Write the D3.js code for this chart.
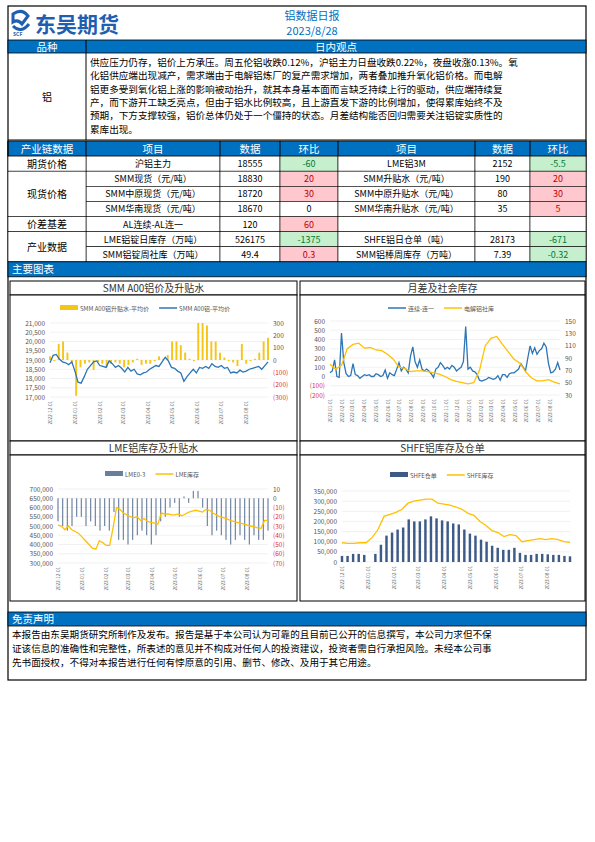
<!DOCTYPE html>
<html><head><meta charset="utf-8">
<script src="https://cdn.jsdelivr.net/npm/d3@7"></script>
<style>body{margin:0;background:#fff}svg text{font-family:"Noto Sans CJK SC",sans-serif}</style>
</head><body><svg id="pg" width="595" height="842"></svg>
<script>
// ---- data ----
const viewLines = [
  "供应压力仍存，铝价上方承压。周五伦铝收跌0.12%，沪铝主力日盘收跌0.22%，夜盘收涨0.13%。氧",
  "化铝供应端出现减产，需求端由于电解铝炼厂的复产需求增加，两者叠加推升氧化铝价格。而电解",
  "铝更多受到氧化铝上涨的影响被动抬升，就其本身基本面而言缺乏持续上行的驱动，供应端持续复",
  "产，而下游开工缺乏亮点，但由于铝水比例较高，且上游直发下游的比例增加，使得累库始终不及",
  "预期，下方支撑较强，铝价总体仍处于一个僵持的状态。月差结构能否回归需要关注铝锭实质性的",
  "累库出现。"];
const tableRows = [
  ["沪铝主力","18555","-60","LME铝3M","2152","-5.5"],
  ["SMM现货（元/吨）","18830","20","SMM升贴水（元/吨）","190","20"],
  ["SMM中原现货（元/吨）","18720","30","SMM中原升贴水（元/吨）","80","30"],
  ["SMM华南现货（元/吨）","18670","0","SMM华南升贴水（元/吨）","35","5"],
  ["AL连续-AL连一","120","60","","",""],
  ["LME铝锭日库存（万吨）","526175","-1375","SHFE铝日仓单（吨）","28173","-671"],
  ["SMM铝锭周社库（万吨）","49.4","0.3","SMM铝棒周库存（万吨）","7.39","-0.32"]];
const groups = [["期货价格",1],["现货价格",3],["价差基差",1],["产业数据",2]];

const a00Price = [18850,19250,19300,19050,18900,18850,18750,18900,18400,17800,17750,18100,18500,18700,18900,18950,
  18700,18650,18600,18950,18800,18600,18700,18550,18350,18600,18400,18500,18250,18200,18300,
  18350,18500,18600,18700,18650,18900,19150,18950,18600,18550,18400,18300,17850,18100,18300,18500,
  18300,18600,18550,18650,18550,18800,18650,18600,18700,18550,18600,18300,18350,18300,18450,18350,
  18400,18500,18550,18600,18650,18500,18700,18900];
const a00Prem = [30,-10,130,150,60,-30,-290,-60,-30,-20,-80,-20,-30,-60,-30,-20,-30,-60,-40,-20,
  10,-40,-30,-30,-10,30,10,40,150,150,120,60,10,-10,300,300,280,150,150,60,20,-10,-20,-50,
  130,-30,-10,10,60,150,180];
const spread = [40,60,180,0,-10,470,150,30,0,10,140,20,10,-20,0,20,10,20,0,0,30,20,0,10,70,-20,
  40,20,10,80,150,60,100,80,40,220,320,160,100,180,80,60,80,60,30,-10,80,100,150,120,80,100,
  80,120,100,60,80,100,160,540,80,100,60,50,20,-40,-50,-40,-30,-10,-20,-30,-20,10,-40,20,
  20,-10,30,40,40,60,80,140,100,60,200,330,250,310,240,280,300,360,320,140,40,50,80,150,70];
const socialInv = [80,72,78,105,112,114,106,107,103,102,96,88,75,73,68,69,69,68,66,64,60,55,52,50,
  48,50,70,110,122,125,112,100,88,82,68,58,53,53,55,51,48];
const lmeInv = [505,500,480,500,480,470,460,440,420,400,380,375,420,410,395,395,490,600,590,570,560,550,
  545,550,530,540,525,520,515,510,570,565,565,560,560,565,555,565,575,580,585,580,
  575,590,585,570,560,550,545,540,530,525,520,515,510,505,500,495,490,488,530,530];
const lme03 = [-25,-30,-35,-30,-20,-20,-30,-25,-30,-35,-30,-35,-15,-45,-45,-50,-45,-40,-35,
  -40,-50,-40,-25,-20,-10,-5,-20,2,-5,8,8,-10,-30,-40,-35,-40,-45,-50,-45,-40,-45,-50,-40,-45,-45,-35];
const shfeInv = [95,92,92,95,95,120,160,225,235,245,260,290,300,305,310,310,290,285,280,270,260,240,
  230,200,180,155,145,125,135,130,100,105,110,115,110,115,110,100,97];
const shfeWr = [30,30,40,40,35,0,40,85,130,145,160,170,210,200,200,210,225,215,205,200,190,185,
  160,140,130,110,100,80,70,60,60,70,45,35,35,40,40,38,35,35,30,28];

const BLUE = "#0070C0";
const svg = d3.select("#pg");
const L = 8, R = 586;

// ---- header ----
svg.append("rect").attr("x",L).attr("y",6).attr("width",R-L).attr("height",674).attr("fill","none").attr("stroke","#000").attr("stroke-width",1.2);
const logo = svg.append("g");
logo.append("path").attr("d","M13 14 q9 -6 15 2 l-6 8 q-4 -5 -9 -2z M13 26 q8 8 16 -2").attr("fill","none").attr("stroke","#1F5FB0").attr("stroke-width",3);
logo.append("text").attr("x",13).attr("y",36).attr("font-size",5).attr("fill","#1F5FB0").attr("font-weight","bold").text("SCF");
logo.append("text").attr("x",35).attr("y",32).attr("font-size",21).attr("font-weight","bold").attr("fill","#1F5FB0").text("东吴期货");
svg.append("text").attr("x",312).attr("y",20).attr("text-anchor","middle").attr("font-size",11).attr("fill",BLUE).text("铝数据日报");
svg.append("text").attr("x",312).attr("y",35).attr("text-anchor","middle").attr("font-size",11).attr("fill",BLUE).text("2023/8/28");

function band(y,h){ svg.append("rect").attr("x",L).attr("y",y).attr("width",R-L).attr("height",h).attr("fill",BLUE).attr("stroke","#000").attr("stroke-width",0.8); }
function txt(x,y,s,opt={}){ return svg.append("text").attr("x",x).attr("y",y).attr("font-size",opt.fs||9.5).attr("text-anchor",opt.a||"middle").attr("fill",opt.c||"#000").text(s); }
function cell(x,y,w,h,fill){ svg.append("rect").attr("x",x).attr("y",y).attr("width",w).attr("height",h).attr("fill",fill||"#fff").attr("stroke","#000").attr("stroke-width",0.6); }

band(40,13);
svg.append("line").attr("x1",86).attr("x2",86).attr("y1",40).attr("y2",140).attr("stroke","#000");
txt(47,51,"品种",{c:"#fff",fs:10.5}); txt(336,51,"日内观点",{c:"#fff",fs:10.5});
svg.append("line").attr("x1",L).attr("x2",R).attr("y1",140).attr("y2",140).attr("stroke","#000");
txt(47,101,"铝",{fs:10});
viewLines.forEach((s,i)=>txt(90,66+i*13.3,s,{a:"start",fs:9.6}));

// ---- table ----
const cols=[8,86,220,280,338,475,530,586];
const rowH=15.1, ty0=141;
band(ty0,rowH);
["产业链数据","项目","数据","环比","项目","数据","环比"].forEach((s,i)=>{
  svg.append("line").attr("x1",cols[i]).attr("x2",cols[i]).attr("y1",ty0).attr("y2",ty0+rowH).attr("stroke","#000");
  txt((cols[i]+cols[i+1])/2,ty0+11.5,s,{c:"#fff",fs:10.5});
});
tableRows.forEach((r,i)=>{
  const y=ty0+rowH*(i+1);
  r.forEach((s,j)=>{
    const x=cols[j+1], w=cols[j+2]-x;
    let fill="#fff", col="#000";
    if((j===2||j===5)&&s!==""&&+s!==0){ const v=+s; fill=v>0?"#FFC7CE":"#C6EFCE"; col=v>0?"#C00000":"#007A33"; }
    cell(x,y,w,rowH,fill);
    txt(x+w/2,y+11,s,{c:col,fs:9});
  });
});
let gy=ty0+rowH;
groups.forEach(([g,n])=>{ cell(cols[0],gy,cols[1]-cols[0],rowH*n); txt(47,gy+rowH*n/2+4,g,{fs:10}); gy+=rowH*n; });
band(gy,15); txt(12,gy+11.5,"主要图表",{a:"start",c:"#fff",fs:10.5});

// ---- charts ----
const panels=[[10,297],[300,585]];
function panelFrame(x0,x1,y,title){
  svg.append("rect").attr("x",x0).attr("y",y).attr("width",x1-x0).attr("height",14).attr("fill","#fff").attr("stroke","#000");
  svg.append("rect").attr("x",x0).attr("y",y+14).attr("width",x1-x0).attr("height",146).attr("fill","#fff").attr("stroke","#000");
  txt((x0+x1)/2,y+11,title,{fs:10,c:"#333"});
}
const fmtR=v=>v<0?"("+Math.abs(v)+")":String(v);
function even(start,end,n){ const s=+new Date(start), e=+new Date(end); return d3.range(n).map(i=>new Date(s+(e-s)*i/(n-1))); }

function chart(o){
  const g=svg.append("g");
  const x=d3.scaleTime().domain([new Date(o.start),new Date(o.end)]).range([o.x0,o.x1]);
  const yl=d3.scaleLinear().domain(o.ld).range([o.y1,o.y0]);
  const yr=d3.scaleLinear().domain(o.rd).range([o.y1,o.y0]);
  g.selectAll(".gl").data(yl.ticks(o.lt).filter(v=>v>=o.ld[0])).join("line")
    .attr("x1",o.x0).attr("x2",o.x1).attr("y1",yl).attr("y2",yl).attr("stroke","#e2e2e2").attr("stroke-width",0.5);
  g.append("g").attr("transform",`translate(${o.x0-2},0)`).call(d3.axisLeft(yl).tickValues(o.lticks).tickSize(0).tickFormat(o.lfmt))
    .call(a=>{a.select(".domain").remove();a.selectAll("text").attr("font-size",6.5).attr("fill",d=>d<0?"#E03030":"#555");});
  if(o.rticks) g.append("g").attr("transform",`translate(${o.x1+2},0)`).call(d3.axisRight(yr).tickValues(o.rticks).tickSize(0).tickFormat(fmtR))
    .call(a=>{a.select(".domain").remove();a.selectAll("text").attr("font-size",6.5).attr("fill",d=>d<0?"#E03030":"#555");});
  const s=o.series;
  s.forEach(se=>{
    const dates=even(o.start,o.end,se.v.length);
    const ys= se.axis==="r"?yr:yl;
    if(se.type==="bar"){
      const bw=Math.max(1,(o.x1-o.x0)/se.v.length*(se.bw||0.45)), base=ys(se.base||0);
      g.selectAll(null).data(se.v).join("rect").attr("x",(d,i)=>x(dates[i])-bw/2).attr("width",bw)
        .attr("y",d=>Math.min(base,ys(d))).attr("height",d=>Math.abs(base-ys(d))).attr("fill",se.c);
    } else {
      g.append("path").datum(se.v).attr("fill","none").attr("stroke",se.c).attr("stroke-width",1.3)
        .attr("d",d3.line().x((d,i)=>x(dates[i])).y(d=>ys(d)));
    }
  });
  // x labels
  o.xticks.forEach(d=>{
    const t=new Date(d);
    g.append("text").attr("transform",`translate(${x(t)+2},${o.y1+4}) rotate(-90)`).attr("text-anchor","end")
      .attr("font-size",4.6).attr("fill","#666").text(d3.timeFormat("%Y-%m-01")(t));
  });
  // legend
  let lx=o.legX;
  s.forEach(se=>{
    if(se.type==="bar") g.append("rect").attr("x",lx).attr("y",o.legY-3).attr("width",18).attr("height",5).attr("fill",se.c);
    else g.append("line").attr("x1",lx).attr("x2",lx+18).attr("y1",o.legY).attr("y2",o.legY).attr("stroke",se.c).attr("stroke-width",1.5);
    const tt=g.append("text").attr("x",lx+20).attr("y",o.legY+2.5).attr("font-size",6).attr("fill","#555").text(se.name);
    lx+=24+tt.node().getComputedTextLength()+6;
  });
}
const monthsTo=(a,b)=>d3.timeMonth.range(new Date(a),new Date(b)).map(d=>d.toISOString());

const top1=281, top2=441;
panelFrame(panels[0][0],panels[0][1],top1,"SMM A00铝价及升贴水");
panelFrame(panels[1][0],panels[1][1],top1,"月差及社会库存");
panelFrame(panels[0][0],panels[0][1],top2,"LME铝库存及升贴水");
panelFrame(panels[1][0],panels[1][1],top2,"SHFE铝库存及仓单");

chart({start:"2022-12-01",end:"2023-08-28",x0:50,x1:268,y0:323,y1:397,ld:[17000,21000],lt:8,rd:[-300,300],
  lticks:d3.range(17000,21001,500),rticks:[-300,-200,-100,0,100,200,300],lfmt:d3.format(","),
  xticks:monthsTo("2022-12-01","2023-08-02"),legX:60,legY:308,
  series:[{name:"SMM A00铝升贴水-平均价",type:"bar",axis:"r",c:"#F5C518",v:a00Prem},
          {name:"SMM A00铝-平均价",type:"line",axis:"l",c:"#2E75B6",v:a00Price}]});

chart({start:"2022-01-01",end:"2023-08-28",x0:330,x1:560,y0:321,y1:395,ld:[-200,600],lt:8,rd:[30,150],
  lticks:d3.range(-200,601,100),rticks:d3.range(30,151,20),lfmt:v=>v<0?"("+(-v)+")":v,
  xticks:monthsTo("2022-01-01","2023-08-02"),legX:388,legY:308,
  series:[{name:"连续-连一",type:"line",axis:"l",c:"#2E75B6",v:spread},
          {name:"电解铝社库",type:"line",axis:"r",c:"#FFC000",v:socialInv}]});

chart({start:"2022-12-01",end:"2023-08-28",x0:58,x1:268,y0:489,y1:563,ld:[300000,700000],lt:8,rd:[-70,10],
  lticks:d3.range(300000,700001,50000),rticks:d3.range(-70,11,10),lfmt:d3.format(","),
  xticks:monthsTo("2022-12-01","2023-08-02"),legX:105,legY:474,
  series:[{name:"LME0-3",type:"bar",axis:"r",c:"#6A7F9E",bw:0.25,v:lme03},
          {name:"LME库存",type:"line",axis:"l",c:"#FFC000",v:lmeInv.map(v=>v*1000)}]});

chart({start:"2022-12-01",end:"2023-08-28",x0:342,x1:570,y0:491,y1:562,ld:[0,350000],lt:7,rd:[0,1],
  lticks:d3.range(0,350001,50000),rticks:null,lfmt:d3.format(","),
  xticks:monthsTo("2022-12-01","2023-08-02"),legX:390,legY:475,
  series:[{name:"SHFE仓单",type:"bar",axis:"l",c:"#3E5A86",v:shfeWr.map(v=>v*1000)},
          {name:"SHFE库存",type:"line",axis:"l",c:"#FFC000",v:shfeInv.map(v=>v*1000)}]});

// ---- disclaimer ----
band(612,14); txt(12,623,"免责声明",{a:"start",c:"#fff",fs:10.5});
["本报告由东吴期货研究所制作及发布。报告是基于本公司认为可靠的且目前已公开的信息撰写，本公司力求但不保",
 "证该信息的准确性和完整性，所表述的意见并不构成对任何人的投资建议，投资者需自行承担风险。未经本公司事",
 "先书面授权，不得对本报告进行任何有悖原意的引用、删节、修改、及用于其它用途。"].forEach((s,i)=>txt(12,638+i*14,s,{a:"start",fs:9.6}));
</script></body></html>
